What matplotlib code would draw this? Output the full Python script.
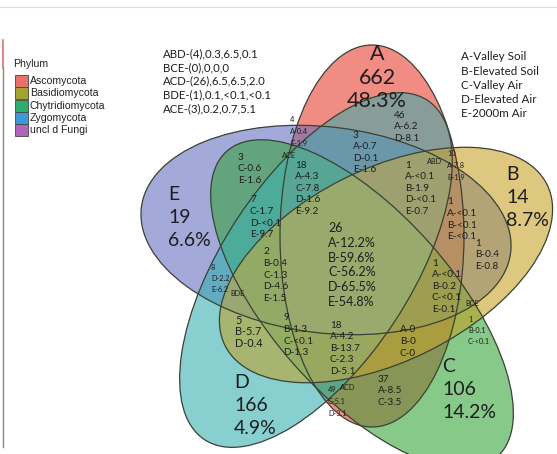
import numpy as np
import matplotlib
matplotlib.use("Agg")
import matplotlib.pyplot as plt
from matplotlib.patches import Ellipse, Rectangle

W, H = 557, 454

# ---------------- data ----------------
set_ids = ["A", "B", "C", "D", "E"]
unique_counts = ["662", "14", "106", "166", "19"]
unique_pcts = ["48.3%", "8.7%", "14.2%", "4.9%", "6.6%"]
set_names = ["A-Valley Soil", "B-Elevated Soil", "C-Valley Air", "D-Elevated Air", "E-2000m Air"]
phyla = ["Ascomycota", "Basidiomycota", "Chytridiomycota", "Zygomycota", "uncl d Fungi"]
notes = ["ABD-(4),0.3,6.5,0.1", "BCE-(0),0,0,0", "ACD-(26),6.5,6.5,2.0",
         "BDE-(1),0.1,<0.1,<0.1", "ACE-(3),0.2,0.7,5.1"]

core_count = "26"
core_vals = ["A-12.2%", "B-59.6%", "C-56.2%", "D-65.5%", "E-54.8%"]

# medium region labels: (count, values)
reg_AD = ("46", ["A-6.2", "D-8.1"])
reg_ADE = ("3", ["A-0.7", "D-0.1", "E-1.6"])
reg_ACDE = ("18", ["A-4.3", "C-7.8", "D-1.6", "E-9.2"])
reg_CE = ("3", ["C-0.6", "E-1.6"])
reg_CDE = ("7", ["C-1.7", "D-<0.1", "E-9.7"])
reg_ABDE = ("1", ["A-<0.1", "B-1.9", "D-<0.1", "E-0.7"])
reg_ABE = ("1", ["A-<0.1", "B-<0.1", "E-<0.1"])
reg_BE = ("1", ["B-0.4", "E-0.8"])
reg_BCDE = ("2", ["B-0.4", "C-1.3", "D-4.6", "E-1.5"])
reg_ABCE = ("1", ["A-<0.1", "B-0.2", "C-<0.1", "E-0.1"])
reg_BD = ("5", ["B-5.7", "D-0.4"])
reg_BCD = ("9", ["B-1.3", "C-<0.1", "D-1.3"])
reg_ABCD = ("18", ["A-4.2", "B-13.7", "C-2.3", "D-5.1"])
reg_ABC = (None, ["A-0", "B-0", "C-0"])
reg_AC = ("37", ["A-8.5", "C-3.5"])
# tiny region labels
reg_AE = ("4", ["A-0.4", "E-1.9"])
reg_AB = ("10", ["A-7.8", "B-1.9"])
reg_DE = ("8", ["D-2.2", "E-6.2"])
reg_BC = ("1", ["B-0.1", "C-<0.1"])
reg_ACD = ("49", ["C-5.1", "D-3.1"])
tags = ["ACE", "ABD", "BDE", "BCE", "ACD"]

# ---------------- style / layout ----------------
set_colors = {"A": (227, 25, 10), "B": (189, 145, 0), "C": (14, 148, 18),
              "D": (17, 162, 162), "E": (71, 85, 181)}
draw_order = ["A", "E", "C", "D", "B"]
ALPHA = 0.5
LIGHTEN = 0.06
phyla_colors = ["#E8706A", "#A3A332", "#2EAE6C", "#3A9AD8", "#B065B8"]
# ellipse geometry in pixel space: cx, cy, semi-minor, semi-major, visual angle (deg, ccw)
ell_geom = {"A": (372, 236, 92, 191, 90),
            "B": (386, 265, 96, 180, 26.6),
            "C": (362, 304, 91, 204, -48.5),
            "D": (316, 270, 94, 203, 56.7),
            "E": (326, 230, 103, 186, -7)}

FONT = "Lato"
fig = plt.figure(figsize=(W / 100, H / 100), dpi=100)
ax = fig.add_axes([0, 0, 1, 1])
ax.set_xlim(0, W)
ax.set_ylim(H, 0)
ax.axis("off")

# ---- fill: composite the translucent sets on a pixel grid ----
SS = 2
xs = (np.arange(W * SS) + 0.5) / SS
ys = (np.arange(H * SS) + 0.5) / SS
X, Y = np.meshgrid(xs, ys)


def inside(k):
    cx, cy, a, b, ang = ell_geom[k]
    t = np.deg2rad(ang)
    dx = X - cx
    dy = -(Y - cy)
    u = dx * np.cos(t) + dy * np.sin(t)
    v = -dx * np.sin(t) + dy * np.cos(t)
    return (u / b) ** 2 + (v / a) ** 2 <= 1.0


img = np.full((H * SS, W * SS, 3), 255.0)
count = np.zeros((H * SS, W * SS))
for k in draw_order:
    m = inside(k)
    col = np.array(set_colors[k], dtype=float)
    img[m] = ALPHA * col + (1 - ALPHA) * img[m]
    count += m
lt = np.clip(LIGHTEN * (count - 1), 0, None)[..., None]
img = img + (255 - img) * lt
ax.imshow(img.astype(np.uint8), extent=(0, W, H, 0), interpolation="antialiased", zorder=1)

for k in draw_order:
    cx, cy, a, b, ang = ell_geom[k]
    ax.add_patch(Ellipse((cx, cy), 2 * b, 2 * a, angle=-ang, facecolor="none",
                         edgecolor="#3a4136", lw=0.9, zorder=2))

TXT = "#1e1e1e"


def block(lines, x, y0, step, size, ha="left"):
    for i, s in enumerate(lines):
        ax.text(x, y0 + i * step, s, fontsize=size, family=FONT, color=TXT,
                ha=ha, va="center", zorder=5)


def region(reg, x, y0, step=11.6, size=7.2):
    cnt, vals = reg
    lines = ([cnt] if cnt is not None else []) + vals
    block(lines, x, y0, step, size)


# big labels for unique regions
big_pos = [(377, 54, "center", 15.5, 23.5), (506, 175, "left", 14, 22.5),
           (442, 367, "left", 14, 22.5), (234, 383, "left", 14, 22.5),
           (168, 195, "left", 14, 22.5)]
for sid, cnt, pct, (x, y, ha, fs, st) in zip(set_ids, unique_counts, unique_pcts, big_pos):
    block([sid, cnt, pct], x, y, st, fs, ha=ha)

# core
block([core_count] + core_vals, 328, 228, 14.8, 9)

region(reg_AD, 394, 115)
region(reg_ADE, 353, 135)
region(reg_ACDE, 295, 165)
region(reg_CE, 238, 157)
region(reg_CDE, 250, 200)
region(reg_ABDE, 405, 165)
region(reg_ABE, 447, 202)
region(reg_BE, 475, 243)
region(reg_BCDE, 263, 252)
region(reg_ABCE, 432, 263)
region(reg_BD, 235, 320, size=7.8)
region(reg_BCD, 283, 318)
region(reg_ABCD, 330, 325)
region(reg_ABC, 400, 330)
region(reg_AC, 378, 379)

region(reg_AE, 290, 120, 11.5, 5.3)
region(reg_AB, 447, 153, 12, 5.3)
region(reg_DE, 211, 267, 11.5, 5.3)
region(reg_BC, 468, 319, 11.5, 5.3)
region(reg_ACD, 328, 389, 12, 5.3)

tag_pos = [(282, 155), (427, 162), (230, 293), (465, 304), (340, 387)]
for t, (x, y) in zip(tags, tag_pos):
    ax.text(x, y, t, fontsize=5.3, family=FONT, color=TXT, ha="left", va="center", zorder=5)

# notes top left / set names top right
block(notes, 163, 54, 13.6, 8.2)
block(set_names, 461, 57, 14.2, 8.4)

# phylum legend
ax.text(13, 64, "Phylum", fontsize=7.6, family="Liberation Sans", color="#222222",
        ha="left", va="center")
for i, (p, c) in enumerate(zip(phyla, phyla_colors)):
    y = 81 + i * 12.3
    ax.add_patch(Rectangle((15, y - 6), 13, 12, facecolor=c, edgecolor="#444444", lw=0.6))
    ax.text(30, y, p, fontsize=7.6, family="Liberation Sans", color="#222222",
            ha="left", va="center")

# frame remnants at the left/top edge
ax.plot([2.5, 2.5], [40, 68], color="#E07070", lw=1.2)
ax.plot([2.5, 2.5], [68, 447], color="#8a8a7a", lw=1.0)
ax.plot([0, W], [7, 7], color="#dddddd", lw=0.8)

fig.savefig("out.png", dpi=100)
